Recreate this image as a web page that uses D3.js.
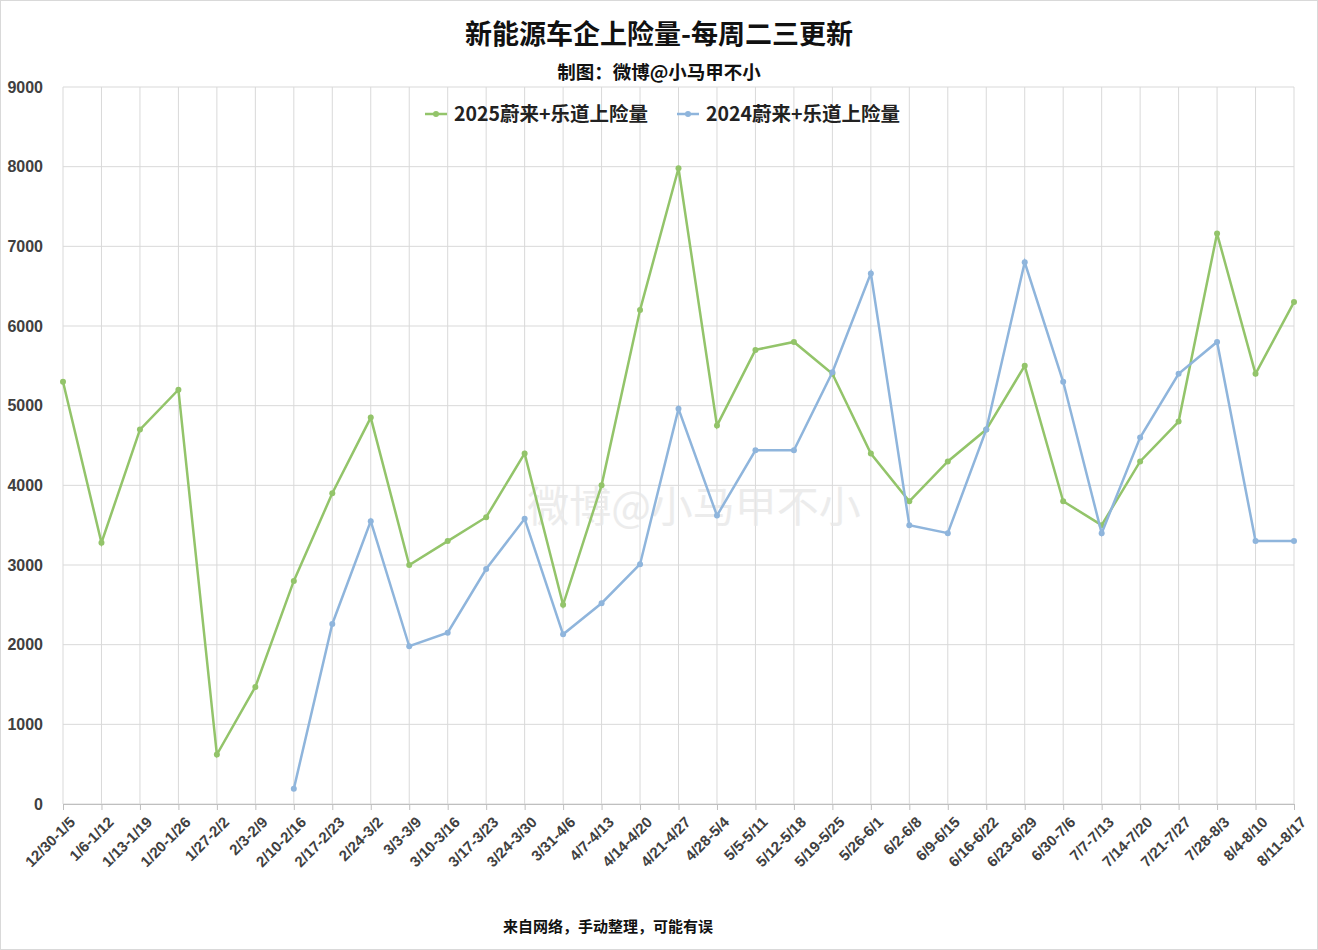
<!DOCTYPE html><html><head><meta charset="utf-8"><script src="https://d3js.org/d3.v7.min.js"></script>
<style>body{margin:0;background:#fff}svg{font-family:"Noto Sans CJK SC","Noto Sans",sans-serif}</style></head><body><div id="c"></div>
<script>
const categories=["12/30-1/5","1/6-1/12","1/13-1/19","1/20-1/26","1/27-2/2","2/3-2/9","2/10-2/16","2/17-2/23","2/24-3/2","3/3-3/9","3/10-3/16","3/17-3/23","3/24-3/30","3/31-4/6","4/7-4/13","4/14-4/20","4/21-4/27","4/28-5/4","5/5-5/11","5/12-5/18","5/19-5/25","5/26-6/1","6/2-6/8","6/9-6/15","6/16-6/22","6/23-6/29","6/30-7/6","7/7-7/13","7/14-7/20","7/21-7/27","7/28-8/3","8/4-8/10","8/11-8/17"];
const s2025=[5300,3280,4700,5200,620,1470,2800,3900,4850,3000,3300,3600,4400,2500,4000,6200,7980,4750,5700,5800,5400,4400,3800,4300,4700,5500,3800,3500,4300,4800,7160,5400,6300];
const s2024=[null,null,null,null,null,null,190,2260,3550,1980,2150,2950,3580,2130,2520,3010,4960,3620,4440,4440,5420,6660,3500,3400,4700,6800,5300,3400,4600,5400,5800,3300,3300];
const yTicks=[0,1000,2000,3000,4000,5000,6000,7000,8000,9000];
const names=["2025蔚来+乐道上险量","2024蔚来+乐道上险量"];
const colors=["#93c46a","#8fb5dc"];
const W=1318,H=950,L=63,R=1294,T=87,B=804;
const svg=d3.select("#c").append("svg").attr("width",W).attr("height",H);
svg.append("rect").attr("x",0.5).attr("y",0.5).attr("width",W-1).attr("height",H-1).attr("fill","#fff").attr("stroke","#d9d9d9");
const x=d3.scalePoint().domain(categories).range([L,R]);
const y=d3.scaleLinear().domain([0,9000]).range([B,T]);
const g=svg.append("g");
yTicks.forEach(t=>g.append("line").attr("x1",L).attr("x2",R).attr("y1",y(t)).attr("y2",y(t)).attr("stroke","#d9d9d9"));
categories.forEach(c=>g.append("line").attr("x1",x(c)).attr("x2",x(c)).attr("y1",T).attr("y2",B).attr("stroke","#d9d9d9"));
const ya=svg.append("g").attr("transform",`translate(${L},0)`).call(d3.axisLeft(y).tickValues(yTicks).tickFormat(d3.format("d")).tickSize(0).tickPadding(20));
ya.select(".domain").remove();ya.selectAll("text").attr("font-size",16).attr("font-weight","bold").attr("fill","#404040");
const xa=svg.append("g").attr("transform",`translate(0,${B})`).call(d3.axisBottom(x).tickSize(6));
xa.select(".domain").attr("stroke","#bfbfbf");xa.selectAll("line").attr("stroke","#bfbfbf");
xa.selectAll("text").attr("font-size",15).attr("font-weight","bold").attr("fill","#404040").attr("text-anchor","end").attr("transform","rotate(-45)").attr("dx","-0.3em").attr("dy","0.9em");
svg.append("text").attr("x",W/2+35).attr("y",522).attr("text-anchor","middle").attr("font-size",42).attr("fill","#e8e8e8").attr("opacity",0.8).text("微博@小马甲不小");
[s2025,s2024].forEach((s,i)=>{
 const line=d3.line().defined(d=>d!=null).x((d,j)=>x(categories[j])).y(d=>y(d));
 svg.append("path").datum(s).attr("d",line).attr("fill","none").attr("stroke",colors[i]).attr("stroke-width",2.5);
 s.forEach((d,j)=>{if(d!=null)svg.append("circle").attr("cx",x(categories[j])).attr("cy",y(d)).attr("r",3).attr("fill",colors[i]);});
});
svg.append("text").attr("x",659).attr("y",44).attr("text-anchor","middle").attr("font-size",27).attr("font-weight","bold").attr("fill","#111").text("新能源车企上险量-每周二三更新");
svg.append("text").attr("x",659).attr("y",79).attr("text-anchor","middle").attr("font-size",18.5).attr("font-weight","bold").attr("fill","#111").text("制图：微博@小马甲不小");
const lx=[425,677];
names.forEach((n,i)=>{
 svg.append("line").attr("x1",lx[i]).attr("x2",lx[i]+22).attr("y1",114).attr("y2",114).attr("stroke",colors[i]).attr("stroke-width",2.5);
 svg.append("circle").attr("cx",lx[i]+11).attr("cy",114).attr("r",3).attr("fill",colors[i]);
 svg.append("text").attr("x",lx[i]+29).attr("y",121).attr("font-size",19.5).attr("font-weight","bold").attr("fill","#222").text(n);
});
svg.append("text").attr("x",608).attr("y",932).attr("text-anchor","middle").attr("font-size",15).attr("font-weight","bold").attr("fill","#111").text("来自网络，手动整理，可能有误");
</script></body></html>
